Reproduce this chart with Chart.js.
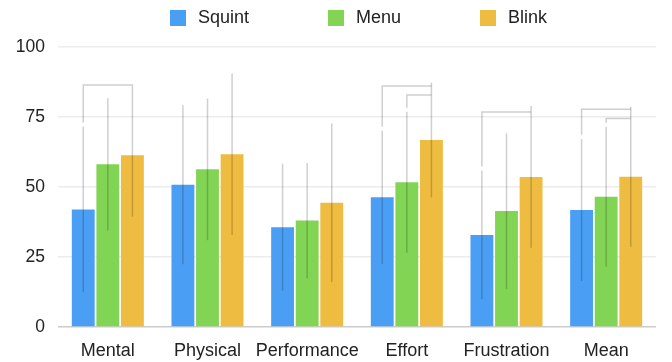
<!DOCTYPE html>
<html>
<head>
<meta charset="utf-8">
<script src="https://cdn.jsdelivr.net/npm/chart.js@4"></script>
<style>
  html, body { margin: 0; padding: 0; background: #ffffff; }
  #wrap { position: relative; width: 672px; height: 362px; }
</style>
</head>
<body>
<div id="wrap"><canvas id="chart"></canvas></div>
<script>
// Workload subscales
const categories = ['Mental', 'Physical', 'Performance', 'Effort', 'Frustration', 'Mean'];

// Mean scores per technique
const squintMeans = [42.0, 50.8, 35.6, 46.3, 32.9, 41.8];
const menuMeans   = [58.1, 56.3, 38.0, 51.7, 41.4, 46.5];
const blinkMeans  = [61.3, 61.7, 44.4, 66.8, 53.6, 53.7];

// Standard deviations
const squintSD = [29.6, 28.4, 22.7, 23.8, 23.0, 25.4];
const menuSD   = [23.6, 25.3, 20.6, 25.2, 27.8, 25.0];
const blinkSD  = [21.9, 28.8, 28.3, 20.5, 25.3, 25.0];

const yTicks = [0, 25, 50, 75, 100];

// Significant pairwise differences: category index, series indices, bracket height (score units)
const sigCategory = [0, 3, 3, 4, 5, 5];
const sigFrom     = [0, 0, 1, 0, 0, 1];
const sigTo       = [2, 2, 2, 2, 2, 2];
const sigLevel    = [86.4, 86.1, 82.9, 76.8, 77.8, 74.5];

const FONT = '"Liberation Sans", Arial, Helvetica, sans-serif';
const TEXT = '#222222';

const seriesKey = {
  id: 'seriesKey',
  afterDraw(chart) {
    const ctx = chart.ctx;
    const starts = [170, 328, 480];
    ctx.save();
    ctx.font = '18px ' + FONT;
    ctx.textBaseline = 'middle';
    ctx.textAlign = 'left';
    chart.data.datasets.forEach((ds, i) => {
      const x = starts[i];
      ctx.fillStyle = ds.backgroundColor;
      ctx.fillRect(x, 10, 16, 16);
      ctx.fillStyle = TEXT;
      ctx.fillText(ds.label, x + 28, 18.5);
    });
    ctx.restore();
  }
};

const errorBars = {
  id: 'errorBars',
  afterDatasetsDraw(chart) {
    const ctx = chart.ctx;
    const y = chart.scales.y;
    ctx.save();
    ctx.strokeStyle = 'rgba(0,0,0,0.19)';
    ctx.lineWidth = 1.5;
    chart.data.datasets.forEach((ds, i) => {
      const meta = chart.getDatasetMeta(i);
      meta.data.forEach((bar, j) => {
        const m = ds.data[j], sd = ds.sd[j];
        ctx.beginPath();
        ctx.moveTo(bar.x, y.getPixelForValue(m + sd));
        ctx.lineTo(bar.x, y.getPixelForValue(m - sd));
        ctx.stroke();
      });
    });
    // significance brackets
    const ds = chart.data.datasets;
    sigCategory.forEach((c, k) => {
      const a = sigFrom[k], b = sigTo[k];
      const xa = chart.getDatasetMeta(a).data[c].x;
      const xb = chart.getDatasetMeta(b).data[c].x;
      const yl = y.getPixelForValue(sigLevel[k]);
      const ya = y.getPixelForValue(ds[a].data[c] + ds[a].sd[c]);
      const yb = y.getPixelForValue(ds[b].data[c] + ds[b].sd[c]);
      ctx.beginPath();
      ctx.moveTo(xa, Math.max(yl, ya - 4));
      ctx.lineTo(xa, yl);
      ctx.lineTo(xb, yl);
      if (yb > yl) ctx.lineTo(xb, yb);
      ctx.stroke();
    });
    ctx.restore();
  }
};

new Chart(document.getElementById('chart'), {
  type: 'bar',
  data: {
    labels: categories,
    datasets: [
      { label: 'Squint', data: squintMeans, sd: squintSD, backgroundColor: '#4a9ff5' },
      { label: 'Menu',   data: menuMeans,   sd: menuSD,   backgroundColor: '#82d455' },
      { label: 'Blink',  data: blinkMeans,  sd: blinkSD,  backgroundColor: '#eebc40' }
    ]
  },
  options: {
    responsive: true,
    maintainAspectRatio: false,
    animation: false,
    layout: { padding: { top: 47, right: 16, left: 0, bottom: 0 } },
    datasets: { bar: { categoryPercentage: 0.74, barPercentage: 0.93 } },
    plugins: { legend: { display: false }, tooltip: { enabled: false } },
    scales: {
      x: {
        grid: { display: false },
        border: { display: false },
        ticks: { color: TEXT, font: { family: FONT, size: 18 }, padding: 5, maxRotation: 0, autoSkip: false },
        afterFit(s) { s.height = 35; }
      },
      y: {
        min: 0, max: 100,
        afterBuildTicks(s) { s.ticks = yTicks.map(v => ({ value: v })); },
        grid: {
          drawTicks: false,
          lineWidth: 1.5,
          color: c => (c.tick && c.tick.value === 0) ? '#cccccc' : '#ececec'
        },
        border: { display: false },
        ticks: { color: TEXT, font: { family: FONT, size: 17.5 }, padding: 13 },
        afterFit(s) { s.width = 58; }
      }
    }
  },
  plugins: [seriesKey, errorBars]
});
</script>
</body>
</html>
